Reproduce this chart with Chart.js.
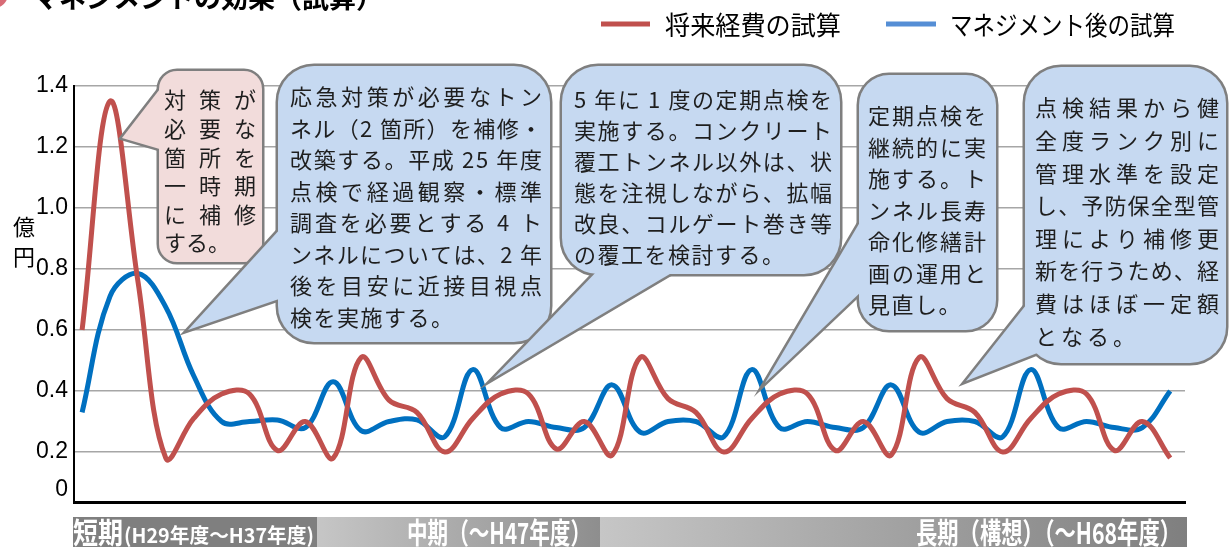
<!DOCTYPE html>
<html>
<head>
<meta charset="utf-8">
<script src="https://cdn.jsdelivr.net/npm/chart.js@4.4.0/dist/chart.umd.min.js"></script>
<style>
  html, body { margin: 0; padding: 0; background: #ffffff; }
  #wrap { width: 1229px; height: 547px; position: relative; }
</style>
</head>
<body>
<div id="wrap"><canvas id="chart"></canvas></div>
<script>
// Fiscal years H29 .. H68
const fiscalYears = [
  'H29','H30','H31','H32','H33','H34','H35','H36','H37','H38',
  'H39','H40','H41','H42','H43','H44','H45','H46','H47','H48',
  'H49','H50','H51','H52','H53','H54','H55','H56','H57','H58',
  'H59','H60','H61','H62','H63','H64','H65','H66','H67','H68'
];

// 将来経費の試算 (億円)
const futureCost = [
  0.60, 1.35, 0.76, 0.18, 0.31, 0.39, 0.39, 0.205, 0.30, 0.18,
  0.51, 0.37, 0.33, 0.20, 0.31, 0.39, 0.39, 0.21, 0.30, 0.19,
  0.51, 0.375, 0.33, 0.20, 0.31, 0.39, 0.39, 0.205, 0.30, 0.19,
  0.51, 0.375, 0.33, 0.20, 0.31, 0.39, 0.39, 0.205, 0.30, 0.18
];

// マネジメント後の試算 (億円)
const managedCost = [
  0.33, 0.71, 0.785, 0.675, 0.45, 0.30, 0.30, 0.305, 0.28, 0.43,
  0.27, 0.30, 0.305, 0.25, 0.47, 0.28, 0.30, 0.28, 0.28, 0.42,
  0.265, 0.30, 0.30, 0.25, 0.47, 0.28, 0.30, 0.28, 0.28, 0.42,
  0.265, 0.30, 0.30, 0.25, 0.47, 0.28, 0.30, 0.28, 0.28, 0.40
];

const yTickValues = [0, 0.2, 0.4, 0.6, 0.8, 1.0, 1.2, 1.4];
const seriesNames = ['将来経費の試算', 'マネジメント後の試算'];
const chartTitle = 'マネジメントの効果（試算）';
const unitLabel = ['億', '円'];

const periodLabels = {
  short: ['短期', '(H29年度～H37年度)'],
  mid: '中期（～H47年度）',
  long: '長期（構想）（～H68年度）'
};

const calloutPink = ['対策が', '必要な', '箇所を', '一時期', 'に補修', 'する。'];
const calloutA = [
  '応急対策が必要なトン',
  'ネル（2 箇所）を補修・',
  '改築する。平成 25 年度',
  '点検で経過観察・標準',
  '調査を必要とする 4 ト',
  'ンネルについては、2 年',
  '後を目安に近接目視点',
  '検を実施する。'
];
const calloutB = [
  '5 年に 1 度の定期点検を',
  '実施する。コンクリート',
  '覆工トンネル以外は、状',
  '態を注視しながら、拡幅',
  '改良、コルゲート巻き等',
  'の覆工を検討する。'
];
const calloutC = [
  '定期点検を',
  '継続的に実',
  '施する。ト',
  'ンネル長寿',
  '命化修繕計',
  '画の運用と',
  '見直し。'
];
const calloutD = [
  '点検結果から健',
  '全度ランク別に',
  '管理水準を設定',
  'し、予防保全型管',
  '理により補修更',
  '新を行うため、経',
  '費はほぼ一定額',
  'となる。'
];

const RED = '#C0504D';
const BLUE = '#0070C0';
const JP = '"Noto Sans CJK JP", "Noto Sans", sans-serif';

function toPoints(values) {
  return values.map((v, i) => ({ x: i, y: v, year: fiscalYears[i] }));
}

// draws a line of text, optionally spread to fill the given width
function drawLine(ctx, text, x, y, width, justify, gapDefault) {
  const chars = Array.from(text);
  const ws = chars.map(c => ctx.measureText(c).width);
  const total = ws.reduce((a, b) => a + b, 0);
  let gap = gapDefault;
  if (justify && chars.length > 1) gap = (width - total) / (chars.length - 1);
  let cx = x;
  chars.forEach((c, i) => { ctx.fillText(c, cx, y); cx += ws[i] + gap; });
}

// draws text squeezed/stretched horizontally to a target width
function drawFit(ctx, text, x, y, width) {
  const m = ctx.measureText(text).width;
  ctx.save();
  ctx.translate(x, y);
  ctx.scale(width / m, 1);
  ctx.fillText(text, 0, 0);
  ctx.restore();
}

function bubble(ctx, b) {
  const rect = new Path2D();
  rect.roundRect(b.x, b.y, b.w, b.h, b.r);
  const tri = new Path2D();
  tri.moveTo(b.p[0][0], b.p[0][1]);
  tri.lineTo(b.p[1][0], b.p[1][1]);
  tri.lineTo(b.p[2][0], b.p[2][1]);
  tri.closePath();
  ctx.save();
  ctx.strokeStyle = '#7f7f7f';
  ctx.lineWidth = 5;
  ctx.lineJoin = 'miter';
  ctx.stroke(rect);
  ctx.stroke(tri);
  ctx.fillStyle = b.fill;
  ctx.fill(rect);
  ctx.fill(tri);
  ctx.restore();
}

function textBlock(ctx, lines, x, y0, step, width, lastGap) {
  ctx.save();
  ctx.fillStyle = '#1e1e1e';
  ctx.font = '22px ' + JP;
  ctx.textBaseline = 'middle';
  ctx.textAlign = 'left';
  lines.forEach((ln, i) => {
    const last = i === lines.length - 1;
    drawLine(ctx, ln, x, y0 + i * step, width, !last, lastGap);
  });
  ctx.restore();
}

const decorations = {
  id: 'decorations',
  afterDatasetsDraw(chart) {
    const ctx = chart.ctx;

    // callout balloons
    const PINK = '#F2DCDB', LB = '#C6D9F1';
    bubble(ctx, { x: 159, y: 71, w: 103, h: 191, r: 18, fill: PINK,
      p: [[163, 85], [122, 138], [163, 150]] });
    bubble(ctx, { x: 278, y: 66, w: 272, h: 276, r: 36, fill: LB,
      p: [[282, 227], [188, 330], [282, 298]] });
    bubble(ctx, { x: 562, y: 66, w: 278, h: 208, r: 36, fill: LB,
      p: [[600, 268], [494, 378], [680, 268]] });
    bubble(ctx, { x: 859, y: 75, w: 137, h: 255, r: 30, fill: LB,
      p: [[863, 217], [765, 383], [863, 290]] });
    bubble(ctx, { x: 1025, y: 67, w: 201, h: 296, r: 36, fill: LB,
      p: [[1030, 300], [966, 381], [1045, 350]] });

    textBlock(ctx, calloutPink, 164, 100, 28.6, 92, 0);
    textBlock(ctx, calloutA, 290, 97, 31.5, 252, 1.5);
    textBlock(ctx, calloutB, 574, 100, 31, 258, 1.5);
    textBlock(ctx, calloutC, 868, 116, 31.5, 118, 1.5);
    textBlock(ctx, calloutD, 1035, 108, 32.6, 184, 4);

    // period band under the axis
    const bandTop = 517, bandBot = 547;
    ctx.save();
    ctx.fillStyle = '#7f7f7f';
    ctx.fillRect(73, bandTop, 317 - 73, bandBot - bandTop);
    let g = ctx.createLinearGradient(317, 0, 600, 0);
    g.addColorStop(0, '#c6c6c6');
    g.addColorStop(1, '#8e8e8e');
    ctx.fillStyle = g;
    ctx.fillRect(317, bandTop, 600 - 317, bandBot - bandTop);
    g = ctx.createLinearGradient(600, 0, 1187, 0);
    g.addColorStop(0, '#c6c6c6');
    g.addColorStop(1, '#7f7f7f');
    ctx.fillStyle = g;
    ctx.fillRect(600, bandTop, 1187 - 600, bandBot - bandTop);

    ctx.fillStyle = '#ffffff';
    ctx.textBaseline = 'middle';
    ctx.textAlign = 'left';
    const my = 533;
    ctx.font = 'bold 29px ' + JP;
    drawFit(ctx, periodLabels.short[0], 73, my, 50);
    ctx.font = 'bold 20px ' + JP;
    drawFit(ctx, periodLabels.short[1], 124, my + 2, 190);
    ctx.font = 'bold 29px ' + JP;
    drawFit(ctx, periodLabels.mid, 407, my, 184);
    drawFit(ctx, periodLabels.long, 916, my, 265);
    ctx.restore();

    // unit label
    ctx.save();
    ctx.fillStyle = '#000';
    ctx.font = '22px ' + JP;
    ctx.textAlign = 'center';
    ctx.textBaseline = 'middle';
    ctx.fillText(unitLabel[0], 24, 227);
    ctx.fillText(unitLabel[1], 24, 257);
    ctx.restore();

    // legend
    ctx.save();
    ctx.lineWidth = 5;
    ctx.lineCap = 'butt';
    ctx.strokeStyle = RED;
    ctx.beginPath(); ctx.moveTo(601, 24); ctx.lineTo(650, 24); ctx.stroke();
    ctx.strokeStyle = '#558ED5';
    ctx.beginPath(); ctx.moveTo(886, 24); ctx.lineTo(936, 24); ctx.stroke();
    ctx.fillStyle = '#000';
    ctx.font = '26px ' + JP;
    ctx.textBaseline = 'middle';
    ctx.textAlign = 'left';
    drawFit(ctx, seriesNames[0], 665, 25, 176);
    drawFit(ctx, seriesNames[1], 950, 25, 225);
    ctx.restore();

    // heading (top edge)
    ctx.save();
    ctx.fillStyle = '#d86b76';
    ctx.beginPath(); ctx.arc(-6, -6, 14, 0, Math.PI * 2); ctx.fill();
    ctx.fillStyle = '#000';
    ctx.font = 'bold 27px ' + JP;
    ctx.textBaseline = 'alphabetic';
    ctx.textAlign = 'left';
    drawFit(ctx, chartTitle, 32, 8, 351);
    ctx.restore();
  }
};

const ctx = document.getElementById('chart').getContext('2d');
new Chart(ctx, {
  type: 'line',
  data: {
    datasets: [
      { label: seriesNames[0], data: toPoints(futureCost), borderColor: RED,
        borderWidth: 5, pointRadius: 0, tension: 0.38, fill: false },
      { label: seriesNames[1], data: toPoints(managedCost), borderColor: BLUE,
        borderWidth: 5, pointRadius: 0, tension: 0.38, fill: false }
    ]
  },
  options: {
    responsive: true,
    maintainAspectRatio: false,
    animation: false,
    layout: { padding: { left: 0, right: 44, top: 86, bottom: 45 } },
    plugins: { legend: { display: false }, tooltip: { enabled: false } },
    scales: {
      x: {
        type: 'linear',
        min: -0.29,
        max: 39.53,
        ticks: { display: false },
        grid: { display: false, drawTicks: false },
        border: { display: true, color: '#000', width: 3 },
        afterFit(scale) { scale.height = 0; }
      },
      y: {
        min: 0.036,
        max: 1.4,
        afterBuildTicks(scale) {
          scale.ticks = yTickValues.map(v => ({ value: v === 0 ? 0.075 : v }));
        },
        afterFit(scale) { scale.width = 74; },
        ticks: {
          padding: 6,
          color: '#000',
          font: { family: '"Liberation Sans", Arial, sans-serif', size: 23 },
          callback: v => (v < 0.1 ? '0' : v.toFixed(1))
        },
        grid: {
          drawTicks: false,
          lineWidth: 1.5,
          color: c => (c.tick && c.tick.value < 0.1 ? 'rgba(0,0,0,0)' : '#a6a6a6')
        },
        border: { display: true, color: '#000', width: 2 }
      }
    }
  },
  plugins: [decorations]
});
</script>
</body>
</html>
